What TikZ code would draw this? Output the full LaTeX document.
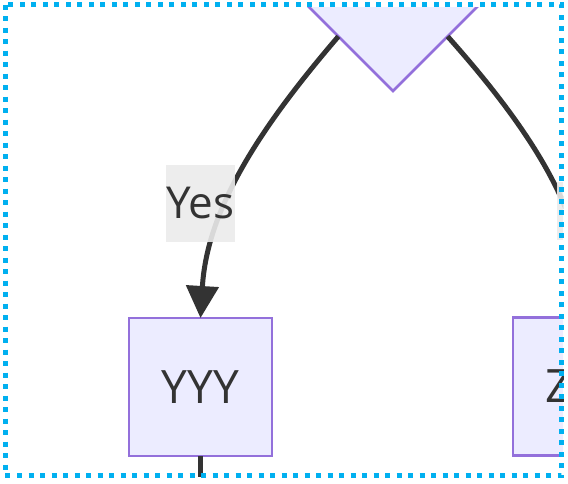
\documentclass[tikz,border=0pt]{standalone}
\usepackage{fontspec}
\setmainfont{Open Sans}
\usetikzlibrary{arrows.meta,shapes.geometric,calc}
\definecolor{mfill}{HTML}{ECECFF}
\definecolor{mstroke}{HTML}{9370DB}
\definecolor{edgec}{HTML}{333333}
\definecolor{lblbg}{HTML}{EBEBEB}
\definecolor{borderc}{HTML}{00B0F0}
\begin{document}
\begin{tikzpicture}[x=1pt,y=-1pt,
  proc/.style={draw=mstroke, fill=mfill, line width=2.5pt, minimum width=143pt, minimum height=138pt, inner sep=0pt, outer sep=0pt, font=\fontsize{46}{54}\selectfont, text=edgec},
  decision/.style={diamond, aspect=1, draw=mstroke, fill=mfill, line width=2.5pt, minimum width=260pt, minimum height=260pt, inner sep=0pt, outer sep=0pt},
  flow/.style={draw=edgec, line width=5pt},
  tipflow/.style={flow, -{Triangle[length=32pt,width=32pt]}},
  lbl/.style={fill=lblbg, fill opacity=0.9, text opacity=1, inner sep=0pt, outer sep=0pt, font=\fontsize{44}{52}\selectfont, text=edgec}]
\useasboundingbox (0,0) rectangle (568,483);
\begin{scope}
\clip (0,7) rectangle (563,476);
\node[decision] (dia) at (393,-39) {};
\node[proc] (yyy) at (200.5,387) {YYY};
\node[proc] (zzz) at (584.5,386.5) {ZZZ};
\coordinate (ls) at ($(dia.south)!0.42!(dia.west)$);
\coordinate (rs) at ($(dia.south)!0.42!(dia.east)$);
\coordinate (yout) at (200.5,495);
\draw[tipflow] (ls) .. controls (258,130) and (207,210) .. (yyy.north);
\draw[tipflow] (rs) .. controls (531,130) and (581,210) .. (zzz.north);
\draw[flow] (yyy.south) -- (yout);
\node[lbl, minimum width=69pt, minimum height=77pt] (yes) at (200.5,203.5) {Yes};
\node[lbl, minimum width=66pt, minimum height=58pt] (nolbl) at (590,211) {};
\end{scope}
\draw[borderc, line width=5pt, dash pattern=on 5pt off 6.5pt] (5,4.5) rectangle (561.5,475.5);
\end{tikzpicture}
\end{document}
